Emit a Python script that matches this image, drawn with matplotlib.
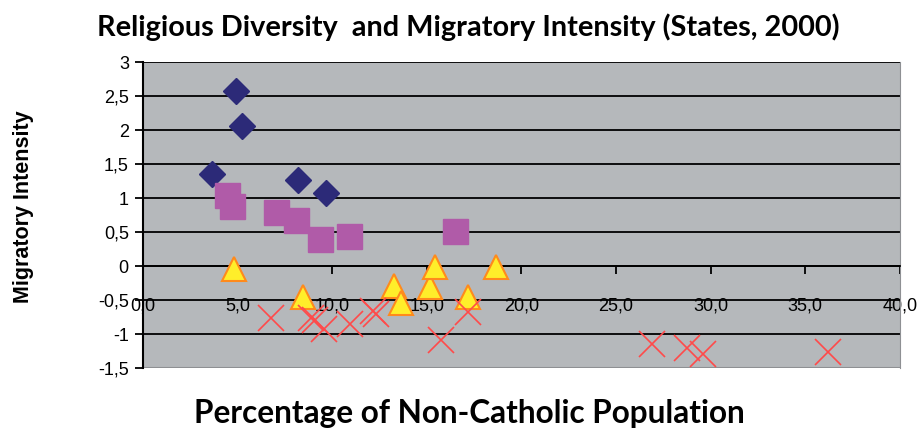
import numpy as np
import matplotlib
matplotlib.use("Agg")
from matplotlib import pyplot as plt
from matplotlib.ticker import MultipleLocator, FuncFormatter

# data (percentage non-catholic, migratory intensity)
diam_x = [3.66, 4.91, 5.27, 8.21, 9.70]
diam_y = [1.36, 2.58, 2.06, 1.26, 1.07]

sq_x = [4.47, 4.72, 7.03, 8.12, 9.35, 10.9, 16.5]
sq_y = [1.04, 0.88, 0.79, 0.67, 0.40, 0.44, 0.52]

tri_x = [4.81, 8.47, 13.26, 13.67, 15.17, 15.43, 17.19, 18.69]
tri_y = [-0.05, -0.46, -0.29, -0.54, -0.31, -0.02, -0.46, -0.02]

x_x = [6.75, 8.91, 9.10, 9.56, 10.94, 12.15, 12.35, 15.78, 17.19, 26.88, 28.76, 29.60, 36.18]
x_y = [-0.76, -0.76, -0.79, -0.93, -0.85, -0.66, -0.70, -1.09, -0.68, -1.15, -1.21, -1.30, -1.26]

fig = plt.figure(figsize=(9.21, 4.34), dpi=100)
ax = fig.add_axes([0.155, 0.152, 0.822, 0.705])
ax.set_facecolor('#b5b8bb')

ax.set_xlim(0, 40)
ax.set_ylim(-1.5, 3)

# horizontal gridlines
for g in np.arange(-1.0, 3.01, 0.5):
    ax.axhline(g, color='black', lw=1.3, zorder=1)

ax.plot(diam_x, diam_y, ls='none', marker='D', ms=13, mfc='#2c2a78', mec='#2c2a78', zorder=3)
ax.plot(sq_x, sq_y, ls='none', marker='s', ms=18, mfc='#b05ba8', mec='#b05ba8', zorder=3)
ax.plot(tri_x, tri_y, ls='none', marker='^', ms=17, mfc='#ffee2a', mec='#ff8a1c', mew=1.5, zorder=4)
ax.plot(x_x, x_y, ls='none', marker='x', ms=19, mec='#ff4a4a', mew=1.2, zorder=5)

comma = FuncFormatter(lambda v, p: ('%g' % v).replace('.', ','))
comma1 = FuncFormatter(lambda v, p: ('%.1f' % v).replace('.', ','))

ax.yaxis.set_major_locator(MultipleLocator(0.5))
ax.yaxis.set_major_formatter(comma)
ax.xaxis.set_major_locator(MultipleLocator(5))
ax.xaxis.set_major_formatter(comma1)

ax.spines['bottom'].set_position(('data', 0))
ax.spines['bottom'].set_color('black')
ax.spines['bottom'].set_linewidth(1.3)
ax.spines['left'].set_color('black')
ax.spines['left'].set_linewidth(1.5)
ax.spines['right'].set_color('#8e9093')
ax.spines['top'].set_visible(False)

# frame bottom edge at -1.5
ax.axhline(-1.5, color='#8e9093', lw=1.5, zorder=1)

ax.tick_params(axis='y', direction='out', length=6, width=1.3, labelsize=13, pad=4)
ax.tick_params(axis='x', direction='out', length=6, width=1.3, labelsize=13, pad=17)
for lab in ax.get_xticklabels() + ax.get_yticklabels():
    lab.set_family('Liberation Sans')

fig.text(0.508, 0.937, 'Religious Diversity  and Migratory Intensity (States, 2000)',
         ha='center', va='center', fontsize=20.8, fontweight='bold', family='Lato')
fig.text(0.510, 0.048, 'Percentage of Non-Catholic Population',
         ha='center', va='center', fontsize=22.7, fontweight='bold', family='Lato')
fig.text(0.025, 0.524, 'Migratory Intensity', rotation=90,
         ha='center', va='center', fontsize=15.5, fontweight='bold', family='Liberation Sans')

plt.savefig('out.png', dpi=100)
